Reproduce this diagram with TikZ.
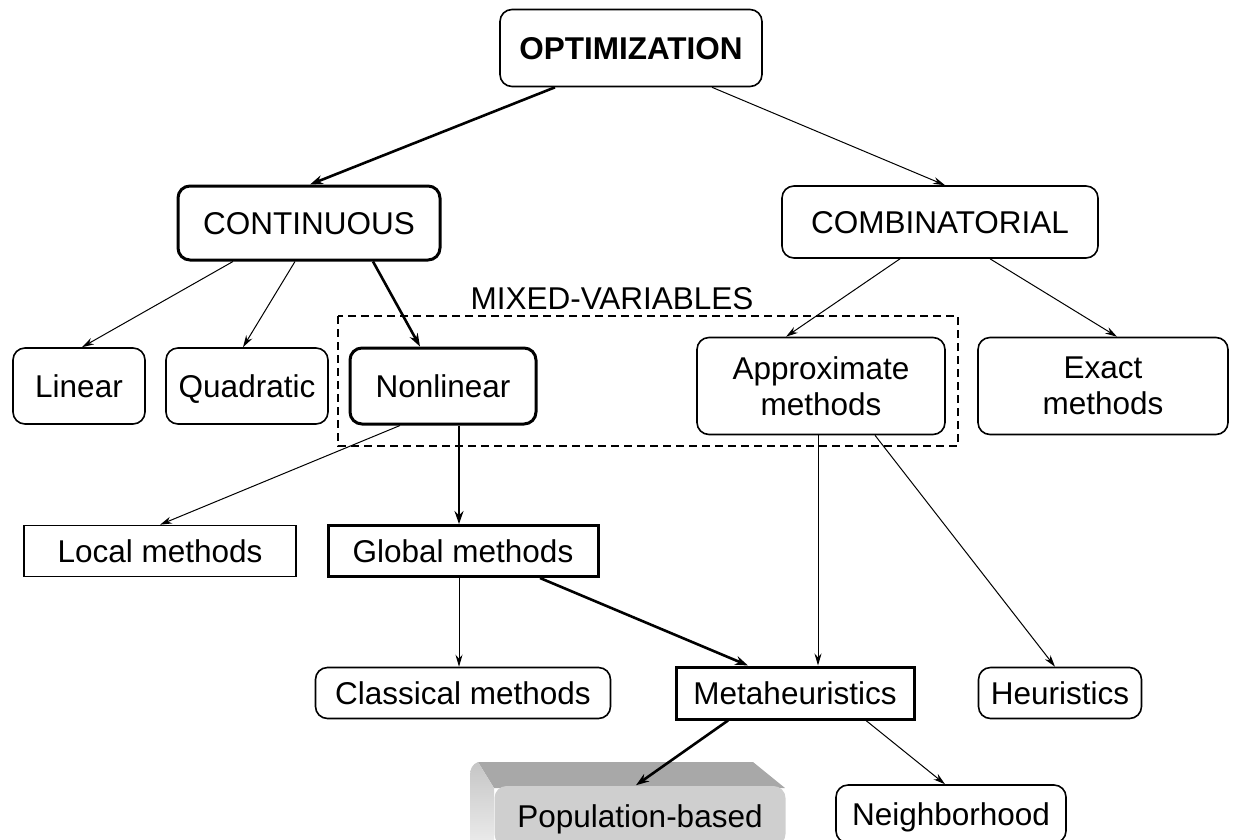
\documentclass[tikz,border=0pt]{standalone}
\usepackage{fontspec}
\setmainfont{Liberation Sans}
\usetikzlibrary{arrows.meta}
\newcommand\vstr{\rule[-0.2em]{0pt}{1.116em}}
\begin{document}
\begin{tikzpicture}[x=1pt,y=-1pt,
  base/.style={draw, font=\fontsize{31.5}{36}\selectfont, align=center, inner sep=0pt, line width=1.6pt, fill=white},
  rbox/.style={base, rounded corners=12pt},
  rboxthick/.style={rbox, line width=3pt},
  sbox/.style={base},
  sboxthick/.style={base, line width=3pt},
  thinarrow/.style={-{Stealth[length=12pt,width=7pt]}, line width=1pt},
  thickarrow/.style={-{Stealth[length=13pt,width=9pt]}, line width=2.6pt},
  dashbox/.style={draw, line width=1.6pt, dash pattern=on 8pt off 5pt},
  lbl/.style={font=\fontsize{31.5}{36}\selectfont, inner sep=0pt}
]
\useasboundingbox (0,0) rectangle (1233,839);

% dashed mixed-variables region
\draw[dashbox] (338,316) rectangle (958,446);
\node[lbl] (mixed) at (612,298) {\vstr MIXED-VARIABLES};

\node[rbox, minimum width=262, minimum height=77] (opt) at (631,48) {\vstr\textbf{OPTIMIZATION}};
\node[rboxthick, minimum width=262, minimum height=74] (cont) at (309,223) {\vstr CONTINUOUS};
\node[rbox, minimum width=316, minimum height=72] (comb) at (940,222) {\vstr COMBINATORIAL};

\node[rbox, minimum width=132, minimum height=76] (lin) at (79,386) {\vstr Linear};
\node[rbox, minimum width=162, minimum height=76] (quad) at (247,386) {\vstr Quadratic};
\node[rboxthick, minimum width=186, minimum height=76] (nonl) at (443,386) {\vstr Nonlinear};
\node[rbox, minimum width=248, minimum height=97] (appr) at (821,386) {Approximate\\methods};
\node[rbox, minimum width=250, minimum height=97] (exact) at (1103,386) {Exact\\methods};

\node[sbox, minimum width=272, minimum height=51] (local) at (160,551) {\vstr Local methods};
\node[sboxthick, minimum width=270, minimum height=51] (global) at (463,551) {\vstr Global methods};

\node[rbox, minimum width=295, minimum height=51] (class) at (463,693) {\vstr Classical methods};
\node[sboxthick, minimum width=238, minimum height=52] (meta) at (795,693) {\vstr Metaheuristics};
\node[rbox, minimum width=163, minimum height=51] (heur) at (1060,693) {\vstr Heuristics};

% 3D population-based block
\fill[gray!68] (478,762) -- (753,762) -- (785,788) -- (494,788) -- cycle;
\shade[top color=gray!45, bottom color=gray!15] (478,762) to[out=200,in=90] (470,775) -- (470,845) -- (494,845) -- (494,788) -- cycle;
\node[rbox, draw=none, fill=gray!38, minimum width=291, minimum height=60] (pop) at (640,816) {\vstr Population-based};
\node[rbox, minimum width=230, minimum height=58] (neigh) at (951,814) {\vstr Neighborhood};

% connectors
\draw[thickarrow] ([xshift=-76pt]opt.south) -- ([xshift=1pt]cont.north);
\draw[thinarrow] ([xshift=81pt]opt.south) -- ([xshift=5pt]comb.north);
\draw[thinarrow] ([xshift=-76pt]cont.south) -- ([xshift=3pt]lin.north);
\draw[thinarrow] ([xshift=-14pt]cont.south) -- ([xshift=-4pt]quad.north);
\draw[thickarrow] ([xshift=64pt]cont.south) -- ([xshift=-23pt]nonl.north);
\draw[thinarrow] ([xshift=-40pt]comb.south) -- ([xshift=-35pt]appr.north);
\draw[thinarrow] ([xshift=50pt]comb.south) -- ([xshift=14pt]exact.north);
\draw[thinarrow] ([xshift=-43pt]nonl.south) -- (local.north);
\draw[thickarrow] ([xshift=16pt]nonl.south) -- ([xshift=-4pt]global.north);
\draw[thinarrow] ([xshift=-3pt]appr.south) -- ([xshift=23pt]meta.north);
\draw[thinarrow] ([xshift=54pt]appr.south) -- ([xshift=-5pt]heur.north);
\draw[thinarrow] ([xshift=-4pt]global.south) -- ([xshift=-4pt]class.north);
\draw[thickarrow] ([xshift=77pt]global.south) -- ([xshift=-47pt]meta.north);
\draw[thickarrow] ([xshift=-67pt]meta.south) -- ([xshift=-4pt]pop.north);
\draw[thinarrow] ([xshift=71pt]meta.south) -- ([xshift=-6pt]neigh.north);
\end{tikzpicture}
\end{document}
